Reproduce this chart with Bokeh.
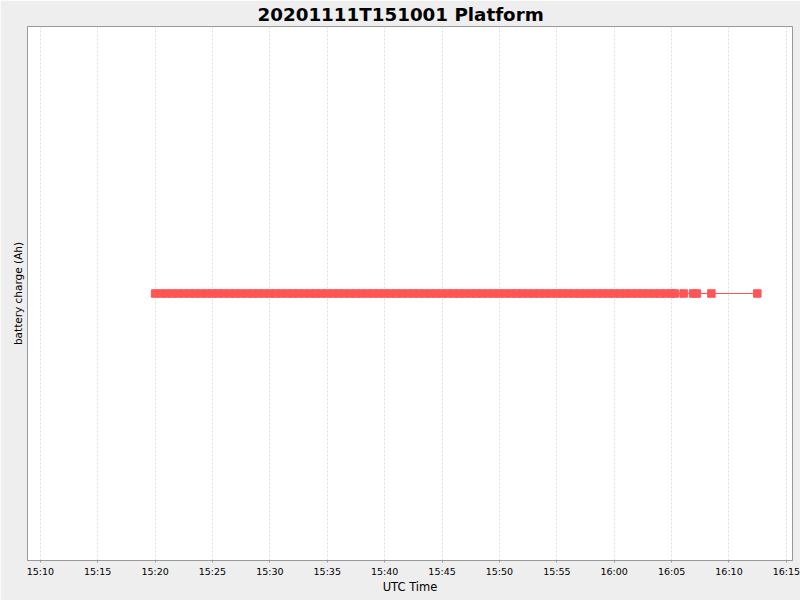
import pandas as pd
from bokeh.plotting import figure
from bokeh.models import FixedTicker, DatetimeTickFormatter, Range1d
from bokeh.embed import file_html
from bokeh.resources import INLINE

TITLE = "20201111T151001 Platform"
DAY = "2020-11-11"

times = [
    "15:20:00", "15:20:30", "15:21:00", "15:21:30", "15:22:00", "15:22:30", "15:23:00", "15:23:30", "15:24:00", "15:24:30",
    "15:25:00", "15:25:30", "15:26:00", "15:26:30", "15:27:00", "15:27:30", "15:28:00", "15:28:30", "15:29:00", "15:29:30",
    "15:30:00", "15:30:30", "15:31:00", "15:31:30", "15:32:00", "15:32:30", "15:33:00", "15:33:30", "15:34:00", "15:34:30",
    "15:35:00", "15:35:30", "15:36:00", "15:36:30", "15:37:00", "15:37:30", "15:38:00", "15:38:30", "15:39:00", "15:39:30",
    "15:40:00", "15:40:30", "15:41:00", "15:41:30", "15:42:00", "15:42:30", "15:43:00", "15:43:30", "15:44:00", "15:44:30",
    "15:45:00", "15:45:30", "15:46:00", "15:46:30", "15:47:00", "15:47:30", "15:48:00", "15:48:30", "15:49:00", "15:49:30",
    "15:50:00", "15:50:30", "15:51:00", "15:51:30", "15:52:00", "15:52:30", "15:53:00", "15:53:30", "15:54:00", "15:54:30",
    "15:55:00", "15:55:30", "15:56:00", "15:56:30", "15:57:00", "15:57:30", "15:58:00", "15:58:30", "15:59:00", "15:59:30",
    "16:00:00", "16:00:30", "16:01:00", "16:01:30", "16:02:00", "16:02:30", "16:03:00", "16:03:30", "16:04:00", "16:04:30",
    "16:05:00", "16:05:17", "16:06:03", "16:06:52", "16:07:12", "16:08:28", "16:12:28",
]

charge_ah = [
    12.0, 12.0, 12.0, 12.0, 12.0, 12.0, 12.0, 12.0, 12.0, 12.0,
    12.0, 12.0, 12.0, 12.0, 12.0, 12.0, 12.0, 12.0, 12.0, 12.0,
    12.0, 12.0, 12.0, 12.0, 12.0, 12.0, 12.0, 12.0, 12.0, 12.0,
    12.0, 12.0, 12.0, 12.0, 12.0, 12.0, 12.0, 12.0, 12.0, 12.0,
    12.0, 12.0, 12.0, 12.0, 12.0, 12.0, 12.0, 12.0, 12.0, 12.0,
    12.0, 12.0, 12.0, 12.0, 12.0, 12.0, 12.0, 12.0, 12.0, 12.0,
    12.0, 12.0, 12.0, 12.0, 12.0, 12.0, 12.0, 12.0, 12.0, 12.0,
    12.0, 12.0, 12.0, 12.0, 12.0, 12.0, 12.0, 12.0, 12.0, 12.0,
    12.0, 12.0, 12.0, 12.0, 12.0, 12.0, 12.0, 12.0, 12.0, 12.0,
    12.0, 12.0, 12.0, 12.0, 12.0, 12.0, 12.0,
]

tick_labels = ["15:10", "15:15", "15:20", "15:25", "15:30", "15:35", "15:40",
               "15:45", "15:50", "15:55", "16:00", "16:05", "16:10", "16:15"]

x_start = "15:08:53"
x_end = "16:15:32"
y_low, y_high = 11.0, 13.0


def ms(t):
    return pd.Timestamp(DAY + " " + t).value / 1e6


xs = [pd.Timestamp(DAY + " " + t) for t in times]
tick_ms = [ms(t + ":00") for t in tick_labels]

p = figure(
    x_axis_type="datetime",
    frame_width=765, frame_height=534,
    min_border_left=27, min_border_right=8, min_border_top=26, min_border_bottom=40,
    output_backend="svg", toolbar_location=None,
    x_range=Range1d(ms(x_start), ms(x_end)),
    y_range=Range1d(y_low, y_high),
    title=TITLE,
)
p.background_fill_color = "white"
p.border_fill_color = "#EEEEEE"
p.outline_line_color = "#999999"

p.title.text_font = "DejaVu Sans"
p.title.text_font_size = "18.3px"
p.title.text_font_style = "bold"
p.title.text_color = "black"
p.title.text_line_height = 0.8
p.title.align = "left"
p.title.vertical_align = "top"
p.title.offset = 230
p.title.standoff = 0

p.line(xs, charge_ah, line_color="#FF5555", line_width=1)
p.scatter(xs, charge_ah, marker="square", size=7.5, fill_color="#FF5555", line_color="#FF5555")

xa = p.xaxis[0]
xa.ticker = FixedTicker(ticks=tick_ms)
xa.formatter = DatetimeTickFormatter(minutes="%H:%M", hours="%H:%M", minsec="%H:%M", seconds="%H:%M")
xa.axis_label = "UTC Time"
xa.axis_label_text_font = "DejaVu Sans"
xa.axis_label_text_font_size = "11.5px"
xa.axis_label_text_font_style = "normal"
xa.axis_label_text_color = "black"
xa.axis_label_standoff = 0
xa.major_label_text_font = "DejaVu Sans"
xa.major_label_text_font_size = "9.5px"
xa.major_label_text_color = "black"
xa.major_label_standoff = 3
xa.axis_line_color = "#999999"
xa.major_tick_line_color = "#999999"
xa.major_tick_out = 2
xa.major_tick_in = 0
xa.minor_tick_line_color = None

ya = p.yaxis[0]
ya.ticker = FixedTicker(ticks=[])
ya.axis_label = "battery charge (Ah)"
ya.axis_label_text_font = "DejaVu Sans"
ya.axis_label_text_font_size = "10.5px"
ya.axis_label_text_font_style = "normal"
ya.axis_label_text_color = "black"
ya.axis_label_standoff = 4
ya.axis_line_color = "#999999"
ya.major_tick_line_color = None
ya.minor_tick_line_color = None

p.xgrid.grid_line_color = "#DDDDDD"
p.xgrid.grid_line_dash = "2 2"
p.ygrid.grid_line_color = None

open("out.html", "w").write(file_html(p, INLINE))
